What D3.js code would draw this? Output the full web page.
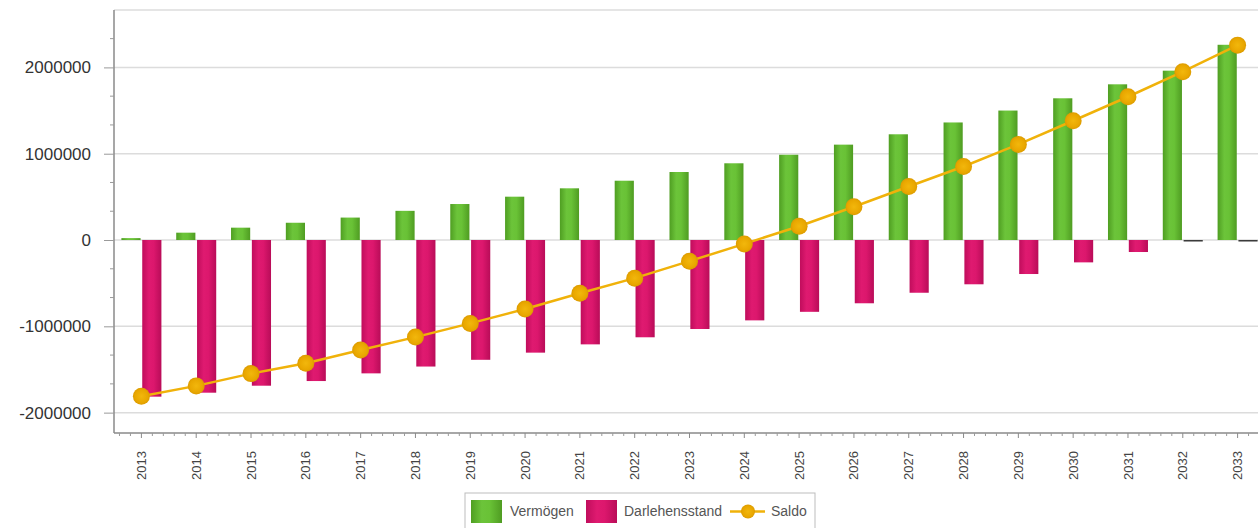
<!DOCTYPE html>
<html>
<head>
<meta charset="utf-8">
<script src="https://cdn.jsdelivr.net/npm/d3@7/dist/d3.min.js"></script>
<style>
  html, body { margin: 0; padding: 0; background: #fff; }
  svg { display: block; font-family: "Liberation Sans", Arial, sans-serif; }
</style>
</head>
<body>
<svg id="chart" width="1258" height="528"></svg>
<script>
// Jahre (Kategorien)
const years = ["2013","2014","2015","2016","2017","2018","2019","2020","2021","2022","2023",
               "2024","2025","2026","2027","2028","2029","2030","2031","2032","2033"];

// Vermögen je Jahr
const vermoegen = [22000, 85000, 143000, 200000, 260000, 338000, 417000, 502000, 599000, 687000, 788000,
                   889000, 988000, 1105000, 1225000, 1362000, 1500000, 1642000, 1804000, 1962000, 2262000];

// Darlehensstand je Jahr (negativ)
const darlehen = [-1815000, -1769000, -1688000, -1634000, -1545000, -1466000, -1388000, -1305000, -1209000, -1127000, -1031000,
                  -931000, -832000, -733000, -611000, -513000, -394000, -259000, -139000, -12000, -6000];

// Saldo je Jahr
const saldo = [-1810000, -1690000, -1548000, -1428000, -1275000, -1125000, -966000, -800000, -617000, -442000, -245000,
               -45000, 160000, 385000, 620000, 852000, 1108000, 1382000, 1660000, 1950000, 2258000];

// Achsenbeschriftung Y
const yTicks = [-2000000, -1000000, 0, 1000000, 2000000];

const seriesNames = ["Vermögen", "Darlehensstand"];

const svg = d3.select("#chart");
const pLeft = 114, pRight = 1265, pTop = 10, pBottom = 433;

const x0 = d3.scaleBand().domain(years).range([pLeft, pRight]).padding(0);
const half = x0.bandwidth() / 2;
const x1 = d3.scaleBand().domain(seriesNames).range([half - 20, half + 20]).paddingInner(0.08);
const y = d3.scaleLinear().domain([-2236000, 2665000]).range([pBottom, pTop]);

// Gradients for the cylindrical bar look
const defs = svg.append("defs");
function grad(id, stops) {
  const g = defs.append("linearGradient").attr("id", id).attr("x1", "0").attr("x2", "1").attr("y1", "0").attr("y2", "0");
  stops.forEach(([o, c]) => g.append("stop").attr("offset", o).attr("stop-color", c));
}
grad("gGreen", [[0, "#4f9e22"], [0.35, "#6cc43a"], [0.6, "#69c236"], [1, "#4f9c22"]]);
grad("gMag", [[0, "#c00d5c"], [0.35, "#df1a70"], [0.6, "#dc176d"], [1, "#b90c58"]]);
const rg = defs.append("radialGradient").attr("id", "gDot");
rg.append("stop").attr("offset", 0).attr("stop-color", "#f2b70c");
rg.append("stop").attr("offset", 0.75).attr("stop-color", "#e9a700");
rg.append("stop").attr("offset", 1).attr("stop-color", "#dc9b00");
defs.append("clipPath").attr("id", "plotClip").append("rect")
  .attr("x", pLeft).attr("y", pTop - 2).attr("width", pRight - pLeft).attr("height", pBottom - pTop + 4);

// Gridlines (including the top frame line)
svg.append("g").selectAll("line").data(yTicks.concat([y.invert(pTop)])).join("line")
  .attr("x1", pLeft).attr("x2", 1258)
  .attr("y1", d => y(d)).attr("y2", d => y(d))
  .attr("stroke", "#dcdcdc")
  .attr("stroke-width", 1.5);

// Y axis (plain hyphen for negative numbers)
const fmt = d3.format("d");
const yAxis = d3.axisLeft(y).tickValues(yTicks).tickFormat(d => fmt(d).replace("\u2212", "-")).tickSize(10).tickPadding(13);
const gy = svg.append("g").attr("transform", `translate(${pLeft},0)`).call(yAxis);
gy.select(".domain").attr("stroke", "#8a8a8a").attr("stroke-width", 1.5).attr("d", `M0,${pTop}V${pBottom}`);
gy.selectAll(".tick line").attr("stroke", "#9a9a9a");
gy.selectAll(".tick text").attr("fill", "#333").style("font-size", "17px");
// Minor y ticks
const minorY = d3.range(-6, 8).map(i => i * 1000000 / 3).filter(v => Math.abs(v % 1000000) > 1 && y(v) > pTop && y(v) < pBottom);
svg.append("g").selectAll("line").data(minorY).join("line")
  .attr("x1", pLeft - 4).attr("x2", pLeft).attr("y1", d => y(d)).attr("y2", d => y(d))
  .attr("stroke", "#9a9a9a");

// Bars
const plot = svg.append("g").attr("clip-path", "url(#plotClip)");
const barData = years.map((yr, i) => ({ yr, vals: [
  { key: "Vermögen", v: vermoegen[i] },
  { key: "Darlehensstand", v: darlehen[i] }
]}));
plot.selectAll("g.year").data(barData).join("g").attr("class", "year")
  .attr("transform", d => `translate(${x0(d.yr)},0)`)
  .selectAll("rect").data(d => d.vals).join("rect")
  .attr("x", d => x1(d.key))
  .attr("width", x1.bandwidth())
  .attr("y", d => y(Math.max(0, d.v)))
  .attr("height", d => Math.max(1.5, Math.abs(y(d.v) - y(0))))
  .attr("fill", d => d.key === "Vermögen" ? "url(#gGreen)" : (Math.abs(d.v) < 20000 ? "#3a3a3a" : "url(#gMag)"));

// Saldo line and markers
const cx = i => x0(years[i]) + half;
const line = d3.line().x((d, i) => cx(i)).y(d => y(d));
plot.append("path").datum(saldo).attr("d", line)
  .attr("fill", "none").attr("stroke", "#f0b20a").attr("stroke-width", 2.5);
plot.selectAll("circle.saldo").data(saldo).join("circle").attr("class", "saldo")
  .attr("cx", (d, i) => cx(i)).attr("cy", d => y(d)).attr("r", 8.5)
  .attr("fill", "url(#gDot)");

// X axis
const xAxis = d3.axisBottom(x0).tickSize(5).tickPadding(4);
const gx = svg.append("g").attr("transform", `translate(0,${pBottom})`).call(xAxis);
gx.select(".domain").attr("stroke", "#8a8a8a").attr("stroke-width", 1.5).attr("d", `M${pLeft},0H1258`);
gx.selectAll(".tick line").attr("stroke", "#8a8a8a");
gx.selectAll(".tick text")
  .attr("fill", "#444").style("font-size", "13px")
  .attr("transform", "rotate(-90)")
  .attr("text-anchor", "end")
  .attr("x", -18).attr("y", 0).attr("dy", "0.35em");
// Minor x ticks
const minorX = [];
years.forEach(yr => { for (let k = 1; k < 5; k++) minorX.push(x0(yr) + half + k * x0.bandwidth() / 5); });
[1, 2, 3, 4].forEach(k => minorX.push(x0(years[0]) + half - k * x0.bandwidth() / 5));
svg.append("g").selectAll("line").data(minorX.filter(v => v > pLeft && v < 1258)).join("line")
  .attr("x1", d => d).attr("x2", d => d).attr("y1", pBottom).attr("y2", pBottom + 3)
  .attr("stroke", "#9a9a9a");

// Legend
const lg = svg.append("g").attr("transform", "translate(465,493)");
lg.append("rect").attr("width", 350).attr("height", 36).attr("fill", "#fff")
  .attr("stroke", "#bdbdbd").attr("stroke-width", 1);
const legendItems = [
  { label: "Vermögen", type: "bar", fill: "url(#gGreen)", x: 6, tx: 45 },
  { label: "Darlehensstand", type: "bar", fill: "url(#gMag)", x: 121, tx: 159 },
  { label: "Saldo", type: "line", x: 265, tx: 306 }
];
legendItems.forEach(it => {
  if (it.type === "bar") {
    lg.append("rect").attr("x", it.x).attr("y", 7).attr("width", 31).attr("height", 23).attr("fill", it.fill);
  } else {
    lg.append("line").attr("x1", it.x).attr("x2", it.x + 35).attr("y1", 18.5).attr("y2", 18.5)
      .attr("stroke", "#f0b20a").attr("stroke-width", 2.5);
    lg.append("circle").attr("cx", it.x + 18).attr("cy", 18.5).attr("r", 7).attr("fill", "url(#gDot)");
  }
  lg.append("text").attr("x", it.tx).attr("y", 18.5).attr("dy", "0.35em")
    .attr("fill", "#555").style("font-size", "14px").text(it.label);
});
</script>
</body>
</html>
